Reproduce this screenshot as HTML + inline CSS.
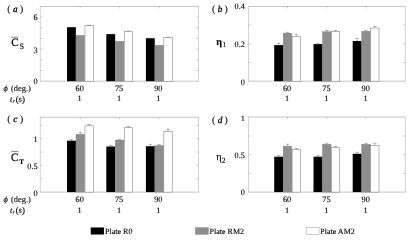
<!DOCTYPE html>
<html><head><meta charset="utf-8"><style>
html,body{margin:0;padding:0;background:#fff}
svg{display:block;filter:blur(0.35px)}
.t{font-family:"Liberation Serif",serif;font-size:8px;fill:#000;stroke:#000;stroke-width:0.12px;text-rendering:geometricPrecision}
.n{font-size:8.3px}
</style></head><body>
<svg width="409" height="240" viewBox="0 0 409 240">
<rect width="409" height="240" fill="#fff"/>
<path d="M40.3 6.4V81.2M198.5 6.4V81.2" fill="none" stroke="#c0c0c0" stroke-width="0.7"/>
<path d="M39.949999999999996 6.4H198.85M39.949999999999996 81.2H198.85" fill="none" stroke="#acacac" stroke-width="0.7"/>
<path d="M40.3 70.50h2.3M198.5 70.50h-2.3M40.3 59.80h2.3M198.5 59.80h-2.3M40.3 49.10h2.3M198.5 49.10h-2.3M40.3 38.40h2.3M198.5 38.40h-2.3M40.3 27.70h2.3M198.5 27.70h-2.3M40.3 17.00h2.3M198.5 17.00h-2.3M80.30 6.4v2.0M80.30 81.2v-2.0M119.60 6.4v2.0M119.60 81.2v-2.0M159.20 6.4v2.0M159.20 81.2v-2.0" stroke="#b4b4b4" stroke-width="0.7" fill="none"/>
<text x="37.70" y="83.90" text-anchor="end" class="t n">0</text>
<text x="37.70" y="52.60" text-anchor="end" class="t n">3</text>
<text x="37.70" y="19.70" text-anchor="end" class="t n">6</text>
<rect x="67.00" y="27.20" width="8.85" height="54.00" fill="#000" stroke="none" stroke-width="0"/>
<rect x="76.02" y="35.38" width="8.50" height="45.83" fill="#8e8e8e" stroke="#6e6e6e" stroke-width="0.35"/>
<rect x="84.95" y="25.55" width="8.35" height="55.65" fill="#fff" stroke="#707070" stroke-width="0.5"/>
<path d="M89.12 25.30V25.15M87.33 25.15h3.6" stroke="#707070" stroke-width="0.5" fill="none"/>
<text x="79.70" y="90.50" text-anchor="middle" class="t n">60</text>
<text x="79.70" y="101.40" text-anchor="middle" class="t n">1</text>
<rect x="106.30" y="34.10" width="8.85" height="47.10" fill="#000" stroke="none" stroke-width="0"/>
<rect x="115.32" y="41.27" width="8.50" height="39.93" fill="#8e8e8e" stroke="#6e6e6e" stroke-width="0.35"/>
<rect x="124.25" y="31.35" width="8.35" height="49.85" fill="#fff" stroke="#707070" stroke-width="0.5"/>
<path d="M128.43 31.10V30.95M126.63 30.95h3.6" stroke="#707070" stroke-width="0.5" fill="none"/>
<text x="119.10" y="90.50" text-anchor="middle" class="t n">75</text>
<text x="119.10" y="101.40" text-anchor="middle" class="t n">1</text>
<rect x="145.90" y="38.20" width="8.85" height="43.00" fill="#000" stroke="none" stroke-width="0"/>
<rect x="154.93" y="45.27" width="8.50" height="35.93" fill="#8e8e8e" stroke="#6e6e6e" stroke-width="0.35"/>
<rect x="163.85" y="37.55" width="8.35" height="43.65" fill="#fff" stroke="#707070" stroke-width="0.5"/>
<path d="M168.03 37.30V37.15M166.22 37.15h3.6" stroke="#707070" stroke-width="0.5" fill="none"/>
<text x="158.30" y="90.50" text-anchor="middle" class="t n">90</text>
<text x="158.30" y="101.40" text-anchor="middle" class="t n">1</text>
<path d="M248.5 6.4V81.2M405.3 6.4V81.2" fill="none" stroke="#c0c0c0" stroke-width="0.7"/>
<path d="M248.15 6.4H405.65000000000003M248.15 81.2H405.65000000000003" fill="none" stroke="#acacac" stroke-width="0.7"/>
<path d="M248.5 62.50h2.3M405.3 62.50h-2.3M248.5 43.80h2.3M405.3 43.80h-2.3M248.5 25.10h2.3M405.3 25.10h-2.3M287.50 6.4v2.0M287.50 81.2v-2.0M326.80 6.4v2.0M326.80 81.2v-2.0M366.00 6.4v2.0M366.00 81.2v-2.0" stroke="#b4b4b4" stroke-width="0.7" fill="none"/>
<text x="244.90" y="84.50" text-anchor="end" class="t n">0</text>
<text x="244.90" y="46.90" text-anchor="end" class="t n">0.2</text>
<text x="244.90" y="9.30" text-anchor="end" class="t n">0.4</text>
<rect x="274.20" y="45.10" width="8.85" height="36.10" fill="#000" stroke="none" stroke-width="0"/>
<path d="M278.62 45.10V43.20M276.82 43.20h3.6" stroke="#707070" stroke-width="0.5" fill="none"/>
<rect x="283.23" y="33.17" width="8.50" height="48.03" fill="#8e8e8e" stroke="#6e6e6e" stroke-width="0.35"/>
<path d="M287.48 33.00V32.30M285.68 32.30h3.6" stroke="#707070" stroke-width="0.5" fill="none"/>
<rect x="292.15" y="36.55" width="8.35" height="44.65" fill="#fff" stroke="#707070" stroke-width="0.5"/>
<path d="M296.32 36.30V34.40M294.52 34.40h3.6" stroke="#707070" stroke-width="0.5" fill="none"/>
<text x="287.10" y="90.50" text-anchor="middle" class="t n">60</text>
<text x="287.10" y="101.40" text-anchor="middle" class="t n">1</text>
<rect x="313.50" y="44.10" width="8.85" height="37.10" fill="#000" stroke="none" stroke-width="0"/>
<path d="M317.93 44.10V43.60M316.12 43.60h3.6" stroke="#707070" stroke-width="0.5" fill="none"/>
<rect x="322.53" y="31.78" width="8.50" height="49.43" fill="#8e8e8e" stroke="#6e6e6e" stroke-width="0.35"/>
<path d="M326.78 31.60V30.50M324.98 30.50h3.6" stroke="#707070" stroke-width="0.5" fill="none"/>
<rect x="331.45" y="31.65" width="8.35" height="49.55" fill="#fff" stroke="#707070" stroke-width="0.5"/>
<path d="M335.62 31.40V30.50M333.82 30.50h3.6" stroke="#707070" stroke-width="0.5" fill="none"/>
<text x="326.40" y="90.50" text-anchor="middle" class="t n">75</text>
<text x="326.40" y="101.40" text-anchor="middle" class="t n">1</text>
<rect x="352.70" y="41.00" width="8.85" height="40.20" fill="#000" stroke="none" stroke-width="0"/>
<path d="M357.12 41.00V38.40M355.32 38.40h3.6" stroke="#707070" stroke-width="0.5" fill="none"/>
<rect x="361.73" y="31.28" width="8.50" height="49.93" fill="#8e8e8e" stroke="#6e6e6e" stroke-width="0.35"/>
<path d="M365.98 31.10V30.40M364.18 30.40h3.6" stroke="#707070" stroke-width="0.5" fill="none"/>
<rect x="370.65" y="28.05" width="8.35" height="53.15" fill="#fff" stroke="#707070" stroke-width="0.5"/>
<path d="M374.82 27.80V26.40M373.02 26.40h3.6" stroke="#707070" stroke-width="0.5" fill="none"/>
<text x="365.70" y="90.50" text-anchor="middle" class="t n">90</text>
<text x="365.70" y="101.40" text-anchor="middle" class="t n">1</text>
<path d="M40.3 117.3V192.1M198.5 117.3V192.1" fill="none" stroke="#c0c0c0" stroke-width="0.7"/>
<path d="M39.949999999999996 117.3H198.85M39.949999999999996 192.1H198.85" fill="none" stroke="#acacac" stroke-width="0.7"/>
<path d="M40.3 178.75h2.3M198.5 178.75h-2.3M40.3 165.40h2.3M198.5 165.40h-2.3M40.3 152.05h2.3M198.5 152.05h-2.3M40.3 138.70h2.3M198.5 138.70h-2.3M40.3 125.35h2.3M198.5 125.35h-2.3M80.30 117.3v2.0M80.30 192.1v-2.0M119.60 117.3v2.0M119.60 192.1v-2.0M159.20 117.3v2.0M159.20 192.1v-2.0" stroke="#b4b4b4" stroke-width="0.7" fill="none"/>
<text x="37.70" y="196.10" text-anchor="end" class="t n">0</text>
<text x="37.70" y="168.60" text-anchor="end" class="t n">0.5</text>
<text x="37.70" y="142.10" text-anchor="end" class="t n">1</text>
<rect x="67.00" y="140.70" width="8.85" height="51.40" fill="#000" stroke="none" stroke-width="0"/>
<path d="M71.42 140.70V139.50M69.62 139.50h3.6" stroke="#707070" stroke-width="0.5" fill="none"/>
<rect x="76.02" y="134.28" width="8.50" height="57.83" fill="#8e8e8e" stroke="#6e6e6e" stroke-width="0.35"/>
<path d="M80.27 134.10V132.30M78.47 132.30h3.6" stroke="#707070" stroke-width="0.5" fill="none"/>
<rect x="84.95" y="125.85" width="8.35" height="66.25" fill="#fff" stroke="#707070" stroke-width="0.5"/>
<path d="M89.12 125.60V124.50M87.33 124.50h3.6" stroke="#707070" stroke-width="0.5" fill="none"/>
<text x="79.70" y="202.00" text-anchor="middle" class="t n">60</text>
<text x="79.70" y="212.90" text-anchor="middle" class="t n">1</text>
<rect x="106.30" y="146.50" width="8.85" height="45.60" fill="#000" stroke="none" stroke-width="0"/>
<path d="M110.72 146.50V145.50M108.92 145.50h3.6" stroke="#707070" stroke-width="0.5" fill="none"/>
<rect x="115.32" y="140.08" width="8.50" height="52.02" fill="#8e8e8e" stroke="#6e6e6e" stroke-width="0.35"/>
<path d="M119.57 139.90V139.30M117.77 139.30h3.6" stroke="#707070" stroke-width="0.5" fill="none"/>
<rect x="124.25" y="127.75" width="8.35" height="64.35" fill="#fff" stroke="#707070" stroke-width="0.5"/>
<path d="M128.43 127.50V126.30M126.63 126.30h3.6" stroke="#707070" stroke-width="0.5" fill="none"/>
<text x="119.10" y="202.00" text-anchor="middle" class="t n">75</text>
<text x="119.10" y="212.90" text-anchor="middle" class="t n">1</text>
<rect x="145.90" y="146.20" width="8.85" height="45.90" fill="#000" stroke="none" stroke-width="0"/>
<path d="M150.33 146.20V144.40M148.53 144.40h3.6" stroke="#707070" stroke-width="0.5" fill="none"/>
<rect x="154.93" y="145.58" width="8.50" height="46.52" fill="#8e8e8e" stroke="#6e6e6e" stroke-width="0.35"/>
<path d="M159.18 145.40V144.60M157.38 144.60h3.6" stroke="#707070" stroke-width="0.5" fill="none"/>
<rect x="163.85" y="131.35" width="8.35" height="60.75" fill="#fff" stroke="#707070" stroke-width="0.5"/>
<path d="M168.03 131.10V129.20M166.22 129.20h3.6" stroke="#707070" stroke-width="0.5" fill="none"/>
<text x="158.30" y="202.00" text-anchor="middle" class="t n">90</text>
<text x="158.30" y="212.90" text-anchor="middle" class="t n">1</text>
<path d="M248.5 117.0V192.1M405.3 117.0V192.1" fill="none" stroke="#c0c0c0" stroke-width="0.7"/>
<path d="M248.15 117.0H405.65000000000003M248.15 192.1H405.65000000000003" fill="none" stroke="#acacac" stroke-width="0.7"/>
<path d="M248.5 173.40h2.3M405.3 173.40h-2.3M248.5 154.70h2.3M405.3 154.70h-2.3M248.5 136.00h2.3M405.3 136.00h-2.3M287.50 117.0v2.0M287.50 192.1v-2.0M326.80 117.0v2.0M326.80 192.1v-2.0M366.00 117.0v2.0M366.00 192.1v-2.0" stroke="#b4b4b4" stroke-width="0.7" fill="none"/>
<text x="244.90" y="195.40" text-anchor="end" class="t n">0</text>
<text x="244.90" y="158.20" text-anchor="end" class="t n">0.5</text>
<text x="244.90" y="120.50" text-anchor="end" class="t n">1</text>
<rect x="274.20" y="156.70" width="8.85" height="35.40" fill="#000" stroke="none" stroke-width="0"/>
<path d="M278.62 156.70V155.50M276.82 155.50h3.6" stroke="#707070" stroke-width="0.5" fill="none"/>
<rect x="283.23" y="146.18" width="8.50" height="45.92" fill="#8e8e8e" stroke="#6e6e6e" stroke-width="0.35"/>
<path d="M287.48 146.00V144.20M285.68 144.20h3.6" stroke="#707070" stroke-width="0.5" fill="none"/>
<rect x="292.15" y="149.65" width="8.35" height="42.45" fill="#fff" stroke="#707070" stroke-width="0.5"/>
<path d="M296.32 149.40V148.50M294.52 148.50h3.6" stroke="#707070" stroke-width="0.5" fill="none"/>
<text x="287.10" y="202.00" text-anchor="middle" class="t n">60</text>
<text x="287.10" y="212.90" text-anchor="middle" class="t n">1</text>
<rect x="313.50" y="156.70" width="8.85" height="35.40" fill="#000" stroke="none" stroke-width="0"/>
<path d="M317.93 156.70V155.60M316.12 155.60h3.6" stroke="#707070" stroke-width="0.5" fill="none"/>
<rect x="322.53" y="144.28" width="8.50" height="47.83" fill="#8e8e8e" stroke="#6e6e6e" stroke-width="0.35"/>
<path d="M326.78 144.10V143.40M324.98 143.40h3.6" stroke="#707070" stroke-width="0.5" fill="none"/>
<rect x="331.45" y="147.75" width="8.35" height="44.35" fill="#fff" stroke="#707070" stroke-width="0.5"/>
<path d="M335.62 147.50V146.40M333.82 146.40h3.6" stroke="#707070" stroke-width="0.5" fill="none"/>
<text x="326.40" y="202.00" text-anchor="middle" class="t n">75</text>
<text x="326.40" y="212.90" text-anchor="middle" class="t n">1</text>
<rect x="352.70" y="153.80" width="8.85" height="38.30" fill="#000" stroke="none" stroke-width="0"/>
<path d="M357.12 153.80V152.30M355.32 152.30h3.6" stroke="#707070" stroke-width="0.5" fill="none"/>
<rect x="361.73" y="144.28" width="8.50" height="47.83" fill="#8e8e8e" stroke="#6e6e6e" stroke-width="0.35"/>
<path d="M365.98 144.10V143.40M364.18 143.40h3.6" stroke="#707070" stroke-width="0.5" fill="none"/>
<rect x="370.65" y="145.55" width="8.35" height="46.55" fill="#fff" stroke="#707070" stroke-width="0.5"/>
<path d="M374.82 145.30V143.40M373.02 143.40h3.6" stroke="#707070" stroke-width="0.5" fill="none"/>
<text x="365.70" y="202.00" text-anchor="middle" class="t n">90</text>
<text x="365.70" y="212.90" text-anchor="middle" class="t n">1</text>
<text x="7.3" y="12.1" class="t" style="font-size:9.8px">(</text>
<text x="15.399999999999999" y="12.1" class="t" text-anchor="middle" style="font-size:9.2px;font-style:italic;fill:#000;stroke:#000;stroke-width:0.3px">a</text>
<text x="23.2" y="12.1" class="t" text-anchor="end" style="font-size:9.8px">)</text>
<text x="211.9" y="12.1" class="t" style="font-size:9.8px">(</text>
<text x="220.0" y="12.1" class="t" text-anchor="middle" style="font-size:9.2px;font-style:italic;fill:#000;stroke:#000;stroke-width:0.3px">b</text>
<text x="227.8" y="12.1" class="t" text-anchor="end" style="font-size:9.8px">)</text>
<text x="7.3" y="122.1" class="t" style="font-size:9.8px">(</text>
<text x="15.399999999999999" y="122.1" class="t" text-anchor="middle" style="font-size:9.2px;font-style:italic;fill:#000;stroke:#000;stroke-width:0.3px">c</text>
<text x="23.2" y="122.1" class="t" text-anchor="end" style="font-size:9.8px">)</text>
<text x="211.9" y="122.8" class="t" style="font-size:9.8px">(</text>
<text x="220.0" y="122.8" class="t" text-anchor="middle" style="font-size:9.2px;font-style:italic;fill:#000;stroke:#000;stroke-width:0.3px">d</text>
<text x="227.8" y="122.8" class="t" text-anchor="end" style="font-size:9.8px">)</text>
<text x="11.3" y="46.2" class="t" style="font-size:11.2px;stroke:#000;stroke-width:0.2px">C</text><text x="19.6" y="49.1" class="t" style="font-size:8.2px;stroke:#000;stroke-width:0.1px">S</text><path d="M11 37.2h7.3" stroke="#333" stroke-width="0.55"/>
<text x="11.1" y="160.5" class="t" style="font-size:11.2px;stroke:#000;stroke-width:0.2px">C</text><text x="19.3" y="163.8" class="t" style="font-size:7px;font-weight:bold">T</text><path d="M11.2 151.4h7.2" stroke="#555" stroke-width="0.7"/>
<text x="216.2" y="44.8" class="t" style="font-size:10.2px;font-weight:bold">η</text><text x="222.2" y="47.3" class="t" style="font-size:8px;stroke-width:0">1</text>
<text x="216.2" y="159.8" class="t" style="font-size:10.2px;stroke:#1a1a1a;stroke-width:0.25px">η</text><text x="221.6" y="163.0" class="t" style="font-size:8px">2</text>
<text x="3.6" y="91.3" class="t n" font-style="italic">ϕ</text><text x="11.0" y="91.3" class="t" style="font-size:8.4px">(deg.)</text>
<text x="10.0" y="101.5" class="t n" font-style="italic">t</text><text x="12.6" y="102.89999999999999" class="t" font-style="italic" style="font-size:5.5px">r</text><text x="15.7" y="101.5" class="t" style="font-size:8.8px">(s)</text>
<text x="3.6" y="202.3" class="t n" font-style="italic">ϕ</text><text x="11.0" y="202.3" class="t" style="font-size:8.4px">(deg.)</text>
<text x="10.0" y="212.5" class="t n" font-style="italic">t</text><text x="12.6" y="213.9" class="t" font-style="italic" style="font-size:5.5px">r</text><text x="15.7" y="212.5" class="t" style="font-size:8.8px">(s)</text>
<rect x="90.89999999999999" y="227.6" width="13.0" height="6.8" fill="#000" stroke="#000" stroke-width="0.2"/>
<text x="105.1" y="234" class="t">Plate R0</text>
<rect x="195.4" y="227.6" width="13.0" height="6.8" fill="#8e8e8e" stroke="#8e8e8e" stroke-width="0.5"/>
<text x="209.60000000000002" y="234" class="t">Plate RM2</text>
<rect x="306.1" y="227.6" width="13.0" height="6.8" fill="#fff" stroke="#999" stroke-width="0.5"/>
<text x="320.3" y="234" class="t">Plate AM2</text>
</svg></body></html>
